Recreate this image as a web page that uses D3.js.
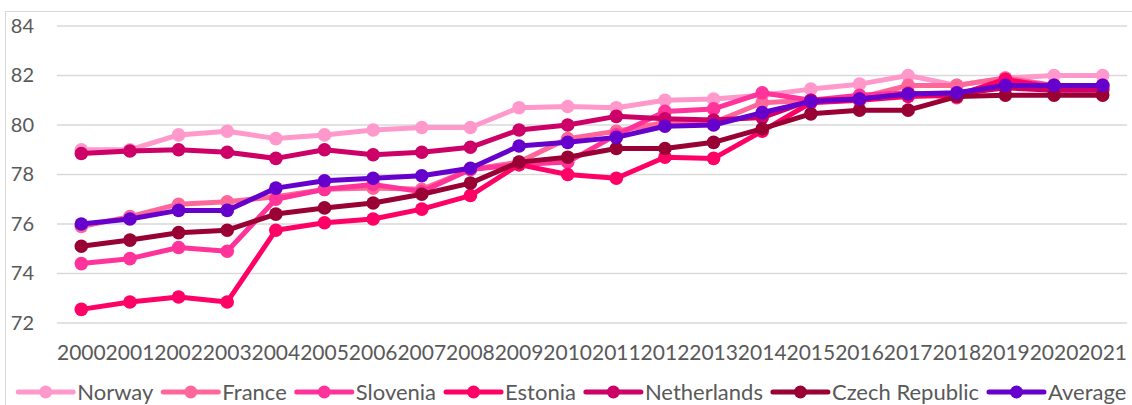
<!DOCTYPE html>
<html>
<head>
<meta charset="utf-8">
<script src="https://cdn.jsdelivr.net/npm/d3@7"></script>
<style>
  html, body { margin: 0; padding: 0; background: #fff; }
  svg { display: block; }
  text { font-family: Lato, "Open Sans", sans-serif; fill: #595959; }
</style>
</head>
<body>
<svg id="chart" width="1132" height="405"></svg>
<script>
const years = ["2000","2001","2002","2003","2004","2005","2006","2007","2008","2009","2010","2011","2012","2013","2014","2015","2016","2017","2018","2019","2020","2021"];
const yTicks = [72, 74, 76, 78, 80, 82, 84];

const norway      = [79.0, 79.0, 79.6, 79.75, 79.45, 79.6, 79.8, 79.9, 79.9, 80.7, 80.75, 80.7, 81.0, 81.05, 81.2, 81.45, 81.65, 82.0, 81.6, 81.9, 82.0, 82.0];
const france      = [75.9, 76.3, 76.8, 76.9, 77.1, 77.4, 77.45, 77.4, 78.2, 78.5, 79.45, 79.75, 80.1, 80.1, 80.9, 81.0, 81.1, 81.6, 81.6, 81.9, 81.6, 81.6];
const slovenia    = [74.4, 74.6, 75.05, 74.9, 77.0, 77.4, 77.6, 77.3, 78.2, 78.4, 78.5, 79.6, 80.55, 80.65, 81.3, 81.0, 81.2, 81.3, 81.1, 81.8, 81.6, 81.6];
const estonia     = [72.55, 72.85, 73.05, 72.85, 75.75, 76.05, 76.2, 76.6, 77.15, 78.4, 78.0, 77.85, 78.7, 78.65, 79.75, 80.9, 81.0, 81.15, 81.2, 81.85, 81.5, 81.5];
const netherlands = [78.85, 78.95, 79.0, 78.9, 78.65, 79.0, 78.8, 78.9, 79.1, 79.8, 80.0, 80.35, 80.25, 80.2, 80.3, 81.0, 81.05, 81.25, 81.25, 81.5, 81.4, 81.4];
const czech       = [75.1, 75.35, 75.65, 75.75, 76.4, 76.65, 76.85, 77.2, 77.65, 78.5, 78.7, 79.05, 79.05, 79.3, 79.85, 80.45, 80.6, 80.6, 81.15, 81.2, 81.2, 81.2];
const average     = [76.0, 76.2, 76.55, 76.55, 77.45, 77.75, 77.85, 77.95, 78.25, 79.15, 79.3, 79.5, 79.95, 80.0, 80.5, 80.95, 81.05, 81.25, 81.3, 81.6, 81.6, 81.6];

const seriesNames = ["Norway", "France", "Slovenia", "Estonia", "Netherlands", "Czech Republic", "Average"];
const seriesValues = [norway, france, slovenia, estonia, netherlands, czech, average];
const seriesColors = ["#FF99CC", "#FF6699", "#FF3399", "#FF0066", "#CC0066", "#990033", "#6600CC"];

const svg = d3.select("#chart");
const plot = { left: 57, right: 1127, top: 26, bottom: 323 };

// chart area border
svg.append("rect")
  .attr("x", 5.5).attr("y", 11.5)
  .attr("width", 1130).attr("height", 400)
  .attr("fill", "none").attr("stroke", "#D9D9D9").attr("stroke-width", 1);

const x = d3.scaleBand().domain(years).range([plot.left, plot.right]);
const y = d3.scaleLinear().domain([72, 84]).range([plot.bottom, plot.top]);

// gridlines
svg.append("g")
  .selectAll("line").data(yTicks).join("line")
  .attr("x1", plot.left).attr("x2", plot.right)
  .attr("y1", d => y(d)).attr("y2", d => y(d))
  .attr("stroke", "#D9D9D9").attr("stroke-width", 1.5);

// y axis
const yAxis = svg.append("g")
  .attr("transform", `translate(${plot.left},0)`)
  .call(d3.axisLeft(y).tickValues(yTicks).tickSize(0).tickPadding(23));
yAxis.select(".domain").remove();
yAxis.selectAll("text").style("font-size", "20px").attr("fill", "#595959");

// x axis
const xAxis = svg.append("g")
  .attr("transform", `translate(0,${plot.bottom})`)
  .call(d3.axisBottom(x).tickSize(0).tickPadding(22));
xAxis.select(".domain").remove();
xAxis.selectAll("text").style("font-size", "21px").attr("fill", "#595959");

// series
const line = d3.line()
  .x((d, i) => x(years[i]) + x.bandwidth() / 2)
  .y(d => y(d));

seriesValues.forEach((vals, si) => {
  const g = svg.append("g");
  g.append("path")
    .attr("d", line(vals))
    .attr("fill", "none")
    .attr("stroke", seriesColors[si])
    .attr("stroke-width", 5)
    .attr("stroke-linejoin", "round")
    .attr("stroke-linecap", "round");
  g.selectAll("circle").data(vals).join("circle")
    .attr("cx", (d, i) => x(years[i]) + x.bandwidth() / 2)
    .attr("cy", d => y(d))
    .attr("r", 6.8)
    .attr("fill", seriesColors[si]);
});

// legend
const legend = svg.append("g");
const legendY = 392;
const symW = 55;
let cursor = 0;
seriesNames.forEach((name, i) => {
  const item = legend.append("g");
  item.append("line")
    .attr("x1", 0).attr("x2", symW)
    .attr("y1", legendY).attr("y2", legendY)
    .attr("stroke", seriesColors[i]).attr("stroke-width", 5)
    .attr("stroke-linecap", "round");
  item.append("circle")
    .attr("cx", symW / 2).attr("cy", legendY).attr("r", 6.5)
    .attr("fill", seriesColors[i]);
  const t = item.append("text")
    .attr("x", symW + 4).attr("y", legendY)
    .attr("dy", "0.35em")
    .style("font-size", "22px")
    .text(name);
  const w = symW + 4 + t.node().getComputedTextLength();
  item.attr("transform", `translate(${cursor},0)`);
  cursor += w + 10;
});
const legendWidth = cursor - 10;
legend.attr("transform", `translate(${(17.5 + 1127) / 2 - legendWidth / 2},0)`);
</script>
</body>
</html>
